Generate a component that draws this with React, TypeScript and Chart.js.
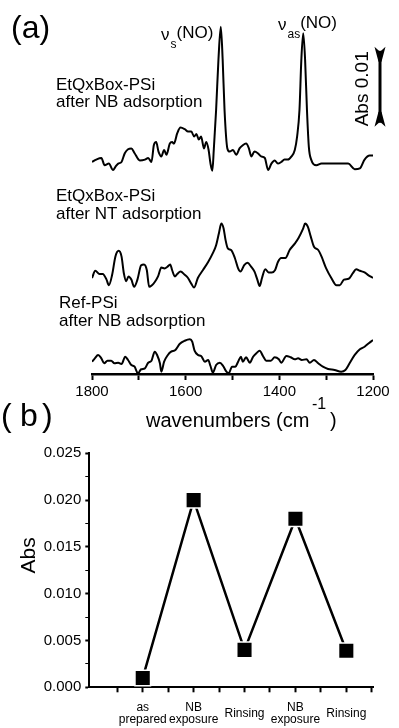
import React, { useEffect, useRef } from "react";
import { Chart, registerables } from "chart.js";
Chart.register(...registerables);

const FONT = "'Liberation Sans', Arial, Helvetica, sans-serif";

// ---------- Panel (a): IR spectra (x: wavenumber cm-1, y: absorbance in mAbs incl. stacking offset)
const nbWn = [1800,1791,1780,1773,1764,1755,1750,1744,1737,1730,1723,1716,1709,1698,1687,1680,1673,1668,1663,1658,1652,1646,1641,1634,1629,1625,1618,1611,1602,1595,1588,1582,1577,1572,1567,1561,1556,1551,1547,1543,1540,1535,1530,1525,1521,1517,1511,1506,1499,1492,1485,1478,1471,1465,1460,1453,1446,1439,1431,1424,1417,1410,1403,1396,1389,1382,1374,1367,1362,1357,1353,1349,1345,1341,1337,1332,1321,1310,1289,1268,1253,1239,1228,1218,1207,1200];
const nbAbs = [26.5,26.8,27.0,26.1,26.3,25.5,25.9,26.3,26.5,27.6,28.1,28.2,27.6,26.7,26.8,27.0,26.5,28.6,29.0,27.8,27.2,28.0,27.4,28.8,29.0,28.8,30.1,30.8,30.6,30.3,30.3,29.7,30.0,29.3,29.7,28.2,29.0,28.0,26.3,25.4,28.0,33.0,39.3,43.4,39.3,33.0,28.2,27.8,28.0,27.4,28.2,28.6,28.8,28.2,27.2,27.8,27.6,27.2,27.0,25.5,26.3,26.7,26.3,26.5,26.8,26.8,27.2,28.0,29.7,33.0,39.3,42.6,39.3,33.0,28.4,26.8,26.1,26.3,26.3,26.3,26.3,25.6,25.7,26.8,27.3,27.3];

const ntWn = [1800,1793,1784,1777,1769,1764,1757,1750,1743,1737,1732,1727,1722,1716,1710,1703,1695,1689,1683,1678,1672,1666,1659,1652,1645,1639,1633,1629,1623,1618,1611,1602,1595,1588,1582,1574,1563,1552,1542,1535,1529,1524,1519,1515,1510,1503,1495,1488,1483,1475,1468,1460,1453,1447,1442,1437,1430,1423,1416,1409,1403,1396,1387,1378,1367,1359,1349,1345,1339,1333,1326,1317,1310,1300,1289,1278,1271,1262,1252,1243,1236,1228,1218,1211,1200];
const ntAbs = [12.0,12.9,12.5,12.5,11.8,11.1,12.4,14.7,15.4,14.7,12.6,11.6,12.2,11.8,10.9,11.8,13.6,13.7,13.0,10.9,11.1,11.5,12.2,13.3,13.2,13.4,13.7,13.0,12.2,12.5,12.8,12.4,12.0,11.3,10.8,12.0,13.0,14.0,15.1,16.1,17.6,18.8,18.2,16.8,15.7,15.5,14.5,13.2,12.8,13.6,13.9,13.4,12.8,11.8,11.0,12.0,13.1,12.7,12.7,13.0,14.0,14.5,14.5,15.5,16.3,17.0,18.2,18.8,18.4,17.2,15.9,15.5,14.7,13.2,12.0,11.1,11.1,11.8,11.9,12.6,13.1,12.9,12.7,12.4,12.0];

const refWn = [1800,1794,1787,1780,1774,1767,1759,1752,1744,1737,1729,1723,1716,1709,1702,1695,1687,1680,1673,1666,1661,1655,1652,1646,1638,1631,1622,1613,1602,1591,1586,1581,1574,1567,1559,1552,1547,1542,1535,1527,1520,1513,1508,1501,1494,1488,1482,1478,1471,1463,1456,1449,1442,1435,1428,1418,1410,1401,1396,1385,1376,1367,1360,1352,1342,1335,1326,1317,1307,1296,1282,1268,1259,1250,1239,1228,1218,1209,1200];
const refAbs = [1.54,1.96,2.38,1.96,1.34,1.66,1.66,1.34,1.41,1.25,2.16,1.75,1.13,0.91,0.09,0.59,0.71,1.41,1.66,2.79,2.38,1.34,0.29,1.54,2.38,2.79,3.0,3.75,4.16,4.34,4.04,2.91,2.38,2.25,1.54,1.75,1.0,0.16,1.13,1.41,1.0,0.29,0.09,0.91,0.91,1.54,2.16,1.54,2.09,1.41,2.16,2.59,2.91,2.25,1.66,1.66,2.09,1.84,1.41,2.25,2.09,1.84,1.96,1.75,1.84,1.41,1.75,1.34,0.91,0.63,0.5,0.29,0.5,1.34,2.38,3.09,3.41,3.84,4.25];

const specTicks = [1800, 1700, 1600, 1500, 1400, 1300, 1200];
const specLabelTicks = [1800, 1600, 1400, 1200];
const scaleBarBase = 30.9; // mAbs
const scaleBarLen = 10; // mAbs = 0.01 Abs

// ---------- Panel (b)
const stepCategories = ["as prepared", "NB exposure", "Rinsing", "NB exposure", "Rinsing"];
const stepAbs = [0.001, 0.020, 0.004, 0.018, 0.0039];
const absMajorTicks = [0, 0.005, 0.01, 0.015, 0.02, 0.025];
const stepTickPositions = [-0.5, 0, 0.5, 1, 1.5, 2, 2.5, 3, 3.5, 4, 4.5];

const zip = (xs: number[], ys: number[]) => xs.map((x, i) => ({ x, y: ys[i] }));

const absAllTicks: number[] = [];
absMajorTicks.forEach((v, i) => {
  absAllTicks.push(v);
  if (i < absMajorTicks.length - 1) absAllTicks.push((v + absMajorTicks[i + 1]) / 2);
});
const isMajorAbs = (v: number) => absMajorTicks.some((m) => Math.abs(m - v) < 1e-9);

const annotA = {
  id: "annotA",
  afterDraw(chart: any) {
    const ctx = chart.ctx as CanvasRenderingContext2D;
    const xs = chart.scales.x;
    const ys = chart.scales.y;
    ctx.save();
    ctx.fillStyle = "#000";
    ctx.strokeStyle = "#000";
    ctx.textAlign = "left";
    ctx.textBaseline = "alphabetic";

    // panel letters
    ctx.font = `32px ${FONT}`;
    ctx.fillText("(a)", 11, 38);
    ctx.fillText("(", 1, 426);
    ctx.fillText("b", 20, 426);
    ctx.fillText(")", 42, 426);

    // trace labels
    ctx.font = `17px ${FONT}`;
    const labels: [string, number, number][] = [
      ["EtQxBox-PSi", 56, 90],
      ["after NB adsorption", 56, 107],
      ["EtQxBox-PSi", 56, 201],
      ["after NT adsorption", 56, 219],
      ["Ref-PSi", 59, 308],
      ["after NB adsorption", 59, 326],
    ];
    labels.forEach(([t, x, y]) => ctx.fillText(t, x, y));

    // peak labels
    const nu = (x: number, base: number, sub: string) => {
      ctx.font = `17px ${FONT}`;
      ctx.fillText("\u03BD", x, base);
      const w1 = ctx.measureText("\u03BD").width;
      ctx.font = `12px ${FONT}`;
      ctx.fillText(sub, x + w1 + 1, base + 8);
      const w2 = ctx.measureText(sub).width;
      ctx.font = `17px ${FONT}`;
      ctx.fillText("(NO)", x + w1 + w2 + 1, base - 2);
    };
    nu(161, 40, "s");
    nu(278, 30, "as");

    // scale bar 0.01 Abs
    const x0 = xs.right + 7;
    const yTop = ys.getPixelForValue(scaleBarBase + scaleBarLen);
    const yBot = ys.getPixelForValue(scaleBarBase);
    ctx.lineWidth = 3;
    ctx.beginPath();
    ctx.moveTo(x0, yTop + 4);
    ctx.lineTo(x0, yBot - 4);
    ctx.stroke();
    ctx.beginPath();
    ctx.moveTo(x0 - 5.5, yTop);
    ctx.lineTo(x0, yTop + 5);
    ctx.lineTo(x0 + 5.5, yTop);
    ctx.lineTo(x0 + 1.5, yTop + 15);
    ctx.lineTo(x0 - 1.5, yTop + 15);
    ctx.closePath();
    ctx.fill();
    ctx.beginPath();
    ctx.moveTo(x0 - 5.5, yBot);
    ctx.lineTo(x0, yBot - 5);
    ctx.lineTo(x0 + 5.5, yBot);
    ctx.lineTo(x0 + 1.5, yBot - 15);
    ctx.lineTo(x0 - 1.5, yBot - 15);
    ctx.closePath();
    ctx.fill();

    ctx.save();
    ctx.translate(x0 - 17, (yTop + yBot) / 2 + 2);
    ctx.rotate(-Math.PI / 2);
    ctx.textAlign = "center";
    ctx.textBaseline = "middle";
    ctx.font = `19px ${FONT}`;
    ctx.fillText("Abs 0.01", 0, 0);
    ctx.restore();

    // x-axis title with superscript
    ctx.font = `20px ${FONT}`;
    ctx.fillText("wavenumbers (cm", 146, 427);
    ctx.font = `16px ${FONT}`;
    ctx.fillText("-1", 312, 409);
    ctx.font = `20px ${FONT}`;
    ctx.fillText(")", 330, 427);
    ctx.restore();
  },
};

const annotB = {
  id: "annotB",
  afterDraw(chart: any) {
    const ctx = chart.ctx as CanvasRenderingContext2D;
    const ys = chart.scales.y;
    ctx.save();
    ctx.fillStyle = "#000";
    ctx.translate(29, (ys.top + ys.bottom) / 2 - 15);
    ctx.rotate(-Math.PI / 2);
    ctx.textAlign = "center";
    ctx.textBaseline = "middle";
    ctx.font = `21px ${FONT}`;
    ctx.fillText("Abs", 0, 0);
    ctx.restore();
  },
};

export default function App() {
  const refA = useRef<HTMLCanvasElement>(null);
  const refB = useRef<HTMLCanvasElement>(null);

  useEffect(() => {
    Chart.defaults.font.family = FONT;
    Chart.defaults.color = "#000";

    const lineStyle = {
      borderColor: "#000",
      borderWidth: 2,
      pointRadius: 0,
      cubicInterpolationMode: "monotone" as const,
      fill: false,
    };

    const chartA = new Chart(refA.current!, {
      type: "line",
      data: {
        datasets: [
          { data: zip(nbWn, nbAbs), ...lineStyle },
          { data: zip(ntWn, ntAbs), ...lineStyle },
          { data: zip(refWn, refAbs), ...lineStyle },
        ],
      },
      options: {
        animation: false,
        responsive: false,
        layout: { padding: { left: 92, right: 26, top: 14, bottom: 0 } },
        plugins: { legend: { display: false }, tooltip: { enabled: false } },
        scales: {
          x: {
            type: "linear",
            reverse: true,
            min: 1200,
            max: 1800,
            afterBuildTicks: (s: any) => {
              s.ticks = specTicks.map((v) => ({ value: v }));
            },
            afterFit: (s: any) => {
              s.height = 66;
            },
            ticks: {
              font: { size: 15 },
              color: "#000",
              padding: 3,
              maxRotation: 0,
              autoSkip: false,
              callback: (v: any) => (specLabelTicks.includes(Number(v)) ? String(v) : ""),
            },
            grid: { drawOnChartArea: false, drawTicks: true, tickLength: 6, tickWidth: 2, tickColor: "#000" },
            border: { display: true, color: "#000", width: 2.5 },
          },
          y: { type: "linear", display: false, min: 0, max: 45 },
        },
      },
      plugins: [annotA],
    });

    const chartB = new Chart(refB.current!, {
      type: "line",
      data: {
        datasets: [
          {
            data: stepAbs.map((v, i) => ({ x: i, y: v })),
            borderColor: "#000",
            borderWidth: 2.5,
            tension: 0,
            pointStyle: "rect",
            pointRadius: 11,
            pointBackgroundColor: "#000",
            pointBorderColor: "#fff",
            pointBorderWidth: 1.5,
          },
        ],
      },
      options: {
        animation: false,
        responsive: false,
        layout: { padding: { left: 0, right: 25.7, top: 13.3, bottom: 0 } },
        plugins: { legend: { display: false }, tooltip: { enabled: false } },
        scales: {
          x: {
            type: "linear",
            min: -1.05,
            max: 4.53,
            afterBuildTicks: (s: any) => {
              s.ticks = stepTickPositions.map((v) => ({ value: v }));
            },
            afterFit: (s: any) => {
              s.height = 40.7;
            },
            ticks: {
              font: { size: 12, lineHeight: 0.95 },
              color: "#000",
              padding: 15.5,
              crossAlign: "center",
              maxRotation: 0,
              autoSkip: false,
              callback: (v: any) => {
                const n = Number(v);
                return Number.isInteger(n) && stepCategories[n] ? stepCategories[n].split(" ") : "";
              },
            },
            grid: { drawOnChartArea: false, drawTicks: true, tickLength: 5, tickWidth: 2, tickColor: "#000" },
            border: { display: true, color: "#000", width: 2 },
          },
          y: {
            type: "linear",
            min: 0,
            max: 0.025,
            afterBuildTicks: (s: any) => {
              s.ticks = absAllTicks.map((v) => ({ value: v }));
            },
            afterFit: (s: any) => {
              s.width = 89.3;
            },
            ticks: {
              font: { size: 15 },
              color: "#000",
              padding: 4,
              autoSkip: false,
              callback: (v: any) => (isMajorAbs(Number(v)) ? Number(v).toFixed(3) : ""),
            },
            grid: {
              drawOnChartArea: false,
              drawTicks: true,
              tickLength: 4,
              tickWidth: (c: any) => (c.tick && isMajorAbs(c.tick.value) ? 2 : 1),
              tickColor: "#000",
            },
            border: { display: true, color: "#000", width: 2 },
          },
        },
      },
      plugins: [annotB],
    });

    return () => {
      chartA.destroy();
      chartB.destroy();
    };
  }, []);

  return (
    <div style={{ position: "absolute", left: 0, top: 0, width: 399, height: 728, background: "#fff" }}>
      <canvas
        ref={refA}
        width={399}
        height={440}
        style={{ position: "absolute", left: 0, top: 0, width: 399, height: 440 }}
      />
      <canvas
        ref={refB}
        width={399}
        height={288}
        style={{ position: "absolute", left: 0, top: 440, width: 399, height: 288 }}
      />
    </div>
  );
}
